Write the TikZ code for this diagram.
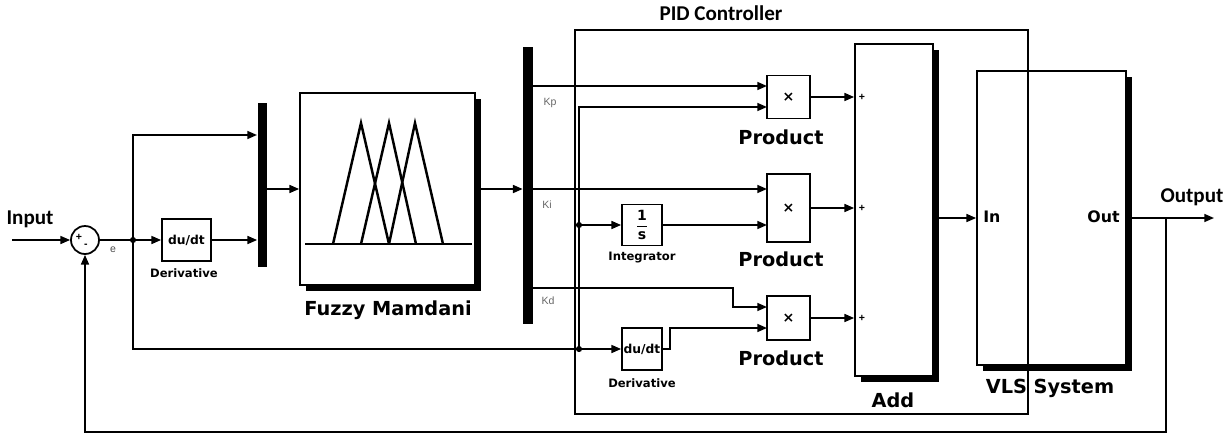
\documentclass[tikz,border=0pt]{standalone}
\usepackage{fontspec}
\newfontfamily\vfont{DejaVu Sans}
\newfontfamily\cfont{Carlito}
\newfontfamily\kfont{Liberation Sans}
\usetikzlibrary{arrows.meta,positioning,shadows}
\tikzset{
  blk/.style={draw, line width=1pt, fill=white, inner sep=0pt, font=\vfont\bfseries\fontsize{7}{8}\selectfont},
  sblk/.style={blk, drop shadow={shadow xshift=0.12cm, shadow yshift=-0.12cm, fill=black, opacity=1}},
  bar/.style={fill=black, inner sep=0pt},
  lbl/.style={font=\vfont\bfseries\fontsize{11}{13}\selectfont, inner sep=0pt},
  slbl/.style={font=\vfont\bfseries\fontsize{6.6}{8}\selectfont, inner sep=0pt},
  io/.style={font=\cfont\bfseries\fontsize{12}{14}\selectfont, inner sep=0pt},
  gain/.style={font=\kfont\fontsize{6}{7}\selectfont, text=black!60, inner sep=0pt},
  sgn/.style={font=\kfont\bfseries\fontsize{6}{7}\selectfont, inner sep=0pt},
  arr/.style={-{Triangle[length=5.5pt,width=4.5pt]}, line width=1pt},
  wire/.style={line width=1pt},
  mf/.style={line width=1.4pt},
  dot/.style={circle, fill=black, inner sep=0pt, minimum size=3.5pt}}

\begin{document}
\begin{tikzpicture}[x=0.02cm, y=-0.02cm]
  \useasboundingbox (0,0) rectangle (1224,434);
  \node[io] (tin) at (30,219) {Input};
  \coordinate (inp) at (12,240);
  \node[draw, circle, line width=1pt, minimum size=0.56cm, inner sep=0pt] (sum) at (85,240) {};
  \node[sgn] (plus) at (79,237) {+};
  \node[sgn] (minus) at (86,246) {-};
  \node[gain, text=black!70] (te) at (113,250) {e};
  \coordinate (j1) at (133,240);
  \node[blk, minimum width=0.98cm, minimum height=0.84cm] (der1) at (186.5,240) {du/dt};
  \node[slbl] (tder1) at (184,273) {Derivative};
  \node[bar, minimum width=0.18cm, minimum height=3.3cm] (mux1) at (262,185) {};
  \coordinate (m1a) at (257,135);
  \node[sblk, minimum width=3.5cm, minimum height=3.84cm] (fuzzy) at (387.5,189) {};
  \node[lbl] (tfuzzy) at (388,310) {Fuzzy Mamdani};
  \draw[mf] (305,244) -- (472,244);
  \draw[mf] (333,244) -- (361,123) -- (389,244);
  \draw[mf] (361,244) -- (389,123) -- (416,244);
  \draw[mf] (389,244) -- (415,123) -- (443,244);
  \node[bar, minimum width=0.2cm, minimum height=5.54cm] (mux2) at (528,185.5) {};
  \node[gain] (tkp) at (550,103) {Kp};
  \node[gain] (tki) at (547,205) {Ki};
  \node[gain] (tkd) at (548,301) {Kd};
  \node[blk, minimum width=0.8cm, minimum height=0.82cm] (integ) at (642,225) {$\displaystyle\frac{\hbox{\vfont\bfseries\fontsize{8}{9}\selectfont 1}}{\hbox{\vfont\bfseries\fontsize{8}{9}\selectfont s}}$};
  \node[slbl] (tinteg) at (642,258) {Integrator};
  \node[blk, minimum width=0.8cm, minimum height=0.84cm] (der2) at (642,349) {du/dt};
  \node[slbl] (tder2) at (642,383) {Derivative};
  \node[blk, minimum width=0.86cm, minimum height=0.86cm, font=\vfont\bfseries\fontsize{8}{9}\selectfont] (p1) at (788.5,97) {×};
  \node[blk, minimum width=0.86cm, minimum height=1.36cm, font=\vfont\bfseries\fontsize{8}{9}\selectfont] (p2) at (788.5,208) {×};
  \node[blk, minimum width=0.86cm, minimum height=0.88cm, font=\vfont\bfseries\fontsize{8}{9}\selectfont] (p3) at (788.5,318) {×};
  \node[lbl] (tp1) at (781,137) {Product};
  \node[lbl] (tp2) at (781,259) {Product};
  \node[lbl] (tp3) at (781,358) {Product};
  \coordinate (kp) at (767,86); \coordinate (p1b) at (767,107);
  \coordinate (ki) at (767,189); \coordinate (p2b) at (767,225);
  \coordinate (kd) at (767,307); \coordinate (p3b) at (767,328);
  \coordinate (kdb) at (733,288);
  \coordinate (j2) at (579,225); \coordinate (j3) at (579,349);
  \node[sblk, minimum width=1.56cm, minimum height=6.64cm] (add) at (894,210) {};
  \node[sgn] (s1) at (862,97) {+};
  \node[sgn] (s2) at (862,208) {+};
  \node[sgn] (s3) at (862,318) {+};
  \node[lbl] (tadd) at (893,400) {Add};
  \node[sblk, minimum width=2.98cm, minimum height=5.88cm] (vls) at (1051.5,218) {};
  \node[lbl, font=\vfont\bfseries\fontsize{9}{10}\selectfont, anchor=west] (tin2) at (983,217) {In};
  \node[lbl, font=\vfont\bfseries\fontsize{9}{10}\selectfont, anchor=east] (tout) at (1120,217) {Out};
  \node[lbl] (tvls) at (1050,388) {VLS System};
  \node[io] (toutp) at (1192,197) {Output};
  \coordinate (outj) at (1166,218); \coordinate (outp) at (1214,218);
  \coordinate (fbl) at (85,432);
  \node[draw, line width=1pt, minimum width=9.06cm, minimum height=7.68cm, inner sep=0pt] (pid) at (801.5,222) {};
  \node[io] (tpid) at (721,13) {PID Controller};
  \draw[arr] (inp) -- (sum.west); \draw[wire] (sum.east) -- (j1); \draw[arr] (j1) -- (der1.west);
  \draw[arr] (j1) |- (m1a); \draw[arr] (der1.east) -- (der1.east -| mux1.west);
  \draw[arr] (mux1.east |- fuzzy.west) -- (fuzzy.west); \draw[arr] (fuzzy.east) -- (fuzzy.east -| mux2.west);
  \draw[arr] (mux2.east |- kp) -- (kp); \draw[arr] (mux2.east |- ki) -- (ki); \draw[arr] (mux2.east |- kdb) -- (kdb) |- (kd);
  \draw[arr] (j1) |- (der2.west); \draw[arr] (j3) |- (p1b); \draw[arr] (j2) -- (integ.west);
  \draw[arr] (integ.east) -- (p2b); \draw[arr] (der2.east) -- ++(7,0) |- (p3b);
  \draw[arr] (p1.east) -- (p1.east -| add.west); \draw[arr] (p2.east) -- (p2.east -| add.west); \draw[arr] (p3.east) -- (p3.east -| add.west);
  \draw[arr] (add.east |- vls.west) -- (vls.west);
  \draw[wire] (vls.east) -- (outj); \draw[arr] (outj) -- (outp); \draw[arr] (outj) |- (fbl) -- (sum.south);
  \node[dot] (d1) at (j1) {}; \node[dot] (d2) at (j2) {}; \node[dot] (d3) at (j3) {};
\end{tikzpicture}
\end{document}
